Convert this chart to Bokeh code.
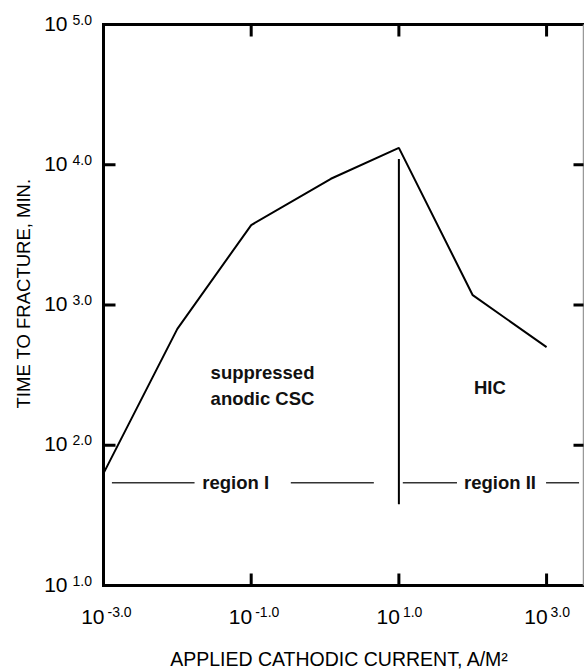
import math
from bokeh.plotting import figure
from bokeh.models import Range1d
from bokeh.core.properties import value
from bokeh.embed import file_html
from bokeh.resources import INLINE

# ---- data ----
current = [1e-3, 1e-2, 1e-1, 1.2, 10, 100, 1000]          # A/m^2
time_to_fracture = [63, 676, 3715, 7943, 13183, 1175, 501]  # minutes

boundary_x = [10, 10]
boundary_y = [38, 11000]

region_x0 = [1.3e-3, 0.344, 11.3, 984]
region_x1 = [0.0171, 4.58, 61.2, 2754]
region_y = [54, 54, 54, 54]

x_ticks = [1e-3, 1e-1, 1e1, 1e3]
x_tick_exp = ["-3.0", "-1.0", "1.0", "3.0"]
y_ticks = [1e1, 1e2, 1e3, 1e4, 1e5]
y_tick_exp = ["1.0", "2.0", "3.0", "4.0", "5.0"]
x_inner_ticks = [1e-1, 1e1, 1e3]
y_inner_ticks = [1e2, 1e3, 1e4]

X_MIN, X_MAX = 1e-3, 10 ** 3.5
Y_MIN, Y_MAX = 1e1, 1e5

# ---- layout (pixels) ----
W, H = 584, 670
BOX_L, BOX_R, BOX_T, BOX_B = 103, 583, 24, 585
PXX = (BOX_R - BOX_L) / (math.log10(X_MAX) - math.log10(X_MIN))
PXY = (BOX_B - BOX_T) / (math.log10(Y_MAX) - math.log10(Y_MIN))
xr0 = 10 ** (math.log10(X_MIN) - BOX_L / PXX)
xr1 = 10 ** (math.log10(X_MAX) + (W - BOX_R) / PXX)
yr0 = 10 ** (math.log10(Y_MIN) - (H - BOX_B) / PXY)
yr1 = 10 ** (math.log10(Y_MAX) + BOX_T / PXY)

FONT = value("Liberation Sans")

p = figure(width=W, height=H, x_axis_type="log", y_axis_type="log",
           x_range=Range1d(xr0, xr1), y_range=Range1d(yr0, yr1),
           output_backend="svg", toolbar_location=None,
           min_border=0, min_border_left=0, min_border_right=0,
           min_border_top=0, min_border_bottom=0)
p.axis.visible = False
p.grid.visible = False
p.outline_line_color = None
p.background_fill_color = "white"
p.border_fill_color = "white"

# ---- frame ----
p.segment(x0=[X_MIN, X_MIN, X_MIN], y0=[Y_MIN, Y_MAX, Y_MIN],
          x1=[X_MAX, X_MAX, X_MIN], y1=[Y_MIN, Y_MAX, Y_MAX],
          line_width=3, line_color="black", line_cap="square")
p.segment(x0=[X_MAX], y0=[Y_MIN], x1=[X_MAX], y1=[Y_MAX],
          line_width=1.5, line_color="#999999")

TICK = 12
fx = 10 ** (TICK / PXX)
fy = 10 ** (TICK / PXY)
fx_r = 10 ** (10 / PXX)
# left / right ticks
p.segment(x0=[X_MIN] * len(y_inner_ticks), y0=y_inner_ticks,
          x1=[X_MIN * fx] * len(y_inner_ticks), y1=y_inner_ticks,
          line_width=3, line_color="black")
p.segment(x0=[X_MAX] * len(y_inner_ticks), y0=y_inner_ticks,
          x1=[X_MAX / fx_r] * len(y_inner_ticks), y1=y_inner_ticks,
          line_width=3, line_color="black")
# bottom / top ticks
p.segment(x0=x_inner_ticks, y0=[Y_MIN] * len(x_inner_ticks),
          x1=x_inner_ticks, y1=[Y_MIN * fy] * len(x_inner_ticks),
          line_width=3, line_color="black")
p.segment(x0=x_inner_ticks, y0=[Y_MAX] * len(x_inner_ticks),
          x1=x_inner_ticks, y1=[Y_MAX / fy] * len(x_inner_ticks),
          line_width=3, line_color="black")

# ---- marks ----
p.line(current, time_to_fracture, line_width=2, line_color="black")
p.line(boundary_x, boundary_y, line_width=2, line_color="black")
p.segment(x0=region_x0, y0=region_y, x1=region_x1, y1=region_y,
          line_width=1.5, line_color="#333333")

# ---- tick labels ----
nx = len(x_ticks)
p.text(x=x_ticks, y=[Y_MIN] * nx, text=["10"] * nx, x_offset=1, y_offset=31,
       text_align="right", text_baseline="middle",
       text_font=FONT, text_font_size=value("21px"), text_color="black")
p.text(x=x_ticks, y=[Y_MIN] * nx, text=x_tick_exp, x_offset=4, y_offset=21,
       text_align="left", text_baseline="top",
       text_font=FONT, text_font_size=value("14px"), text_color="black")

ny = len(y_ticks)
p.text(x=[X_MIN] * ny, y=y_ticks, text=["10"] * ny, x_offset=-36, y_offset=-1,
       text_align="right", text_baseline="middle",
       text_font=FONT, text_font_size=value("21px"), text_color="black")
p.text(x=[X_MIN] * ny, y=y_ticks, text=y_tick_exp, x_offset=-31, y_offset=-10,
       text_align="left", text_baseline="top",
       text_font=FONT, text_font_size=value("14px"), text_color="black")

# ---- axis titles ----
p.text(x=[10 ** 0.196], y=[Y_MIN], text=["APPLIED CATHODIC CURRENT, A/M²"],
       y_offset=73, text_align="center", text_baseline="middle",
       text_font=FONT, text_font_size=value("19.5px"), text_color="black")
p.text(x=[X_MIN], y=[10 ** 3.082], text=["TIME TO FRACTURE, MIN."],
       x_offset=-80, angle=math.pi / 2, angle_units="rad",
       text_align="center", text_baseline="middle",
       text_font=FONT, text_font_size=value("18.5px"), text_color="black")

# ---- annotations inside the plot ----
p.text(x=[0.0282, 0.0282], y=[330, 215], text=["suppressed", "anodic CSC"],
       text_align="left", text_baseline="middle",
       text_font=FONT, text_font_size=value("18.5px"), text_font_style="bold",
       text_color="#111111")
p.text(x=[171, 0.0616, 234], y=[258, 54, 54], text=["HIC", "region I", "region II"],
       text_align="center", text_baseline="middle",
       text_font=FONT, text_font_size=value("18.5px"), text_font_style="bold",
       text_color="#111111")

open("out.html", "w").write(file_html(p, INLINE))
